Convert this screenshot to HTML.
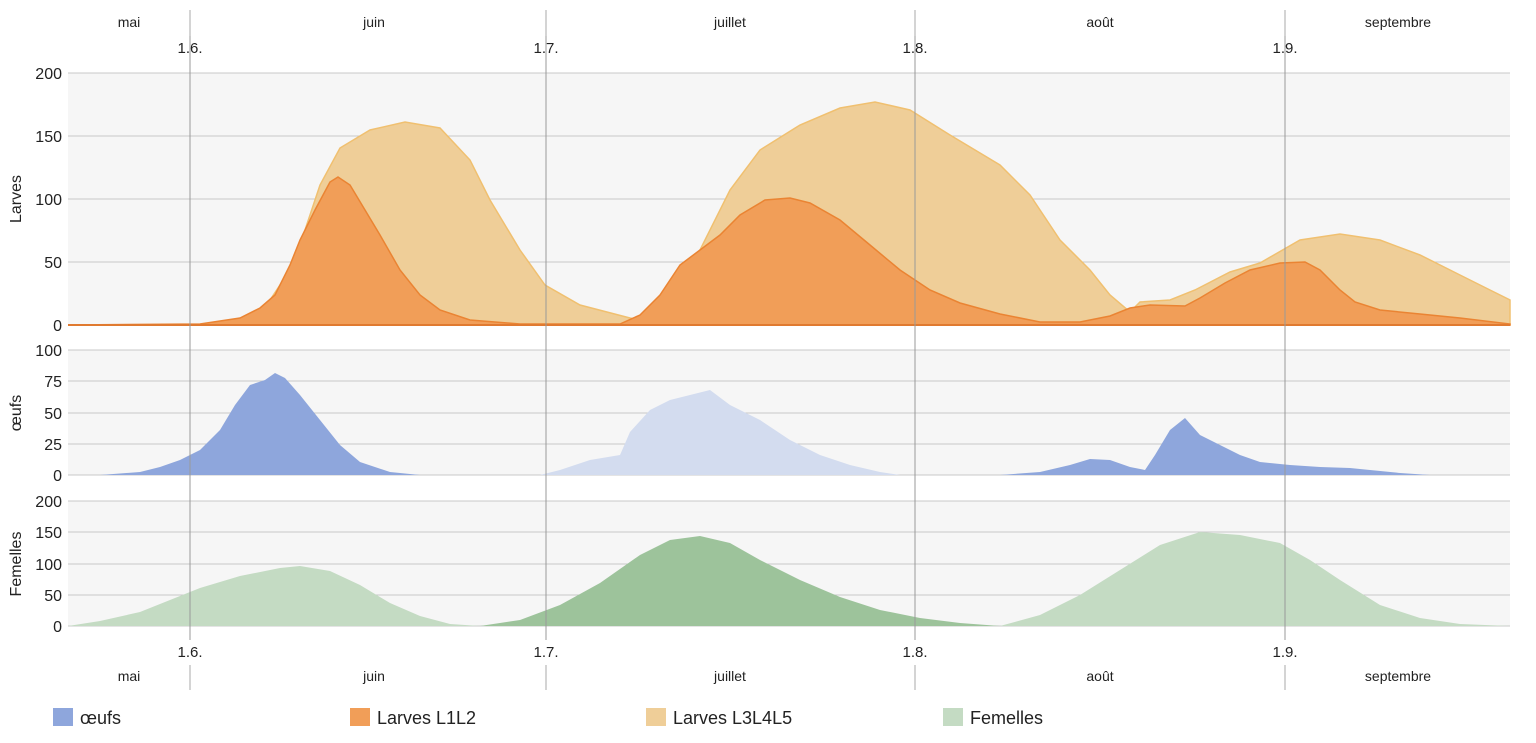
<!DOCTYPE html>
<html><head><meta charset="utf-8"><style>
body{margin:0;background:#fff;}
svg{display:block;font-family:"Liberation Sans",Arial,sans-serif;}
</style></head><body>
<svg width="1536" height="743" viewBox="0 0 1536 743">
<g fill="#f6f6f6"><rect x="68" y="73" width="1442" height="252"/><rect x="68" y="350" width="1442" height="125"/><rect x="68" y="501" width="1442" height="125"/></g>
<g stroke="#c8c8c8" stroke-width="1">
<line x1="68" y1="73" x2="1510" y2="73"/><line x1="68" y1="136" x2="1510" y2="136"/><line x1="68" y1="199" x2="1510" y2="199"/><line x1="68" y1="262" x2="1510" y2="262"/>
<line x1="68" y1="350" x2="1510" y2="350"/><line x1="68" y1="381" x2="1510" y2="381"/><line x1="68" y1="413" x2="1510" y2="413"/><line x1="68" y1="444" x2="1510" y2="444"/><line x1="68" y1="475" x2="1510" y2="475"/>
<line x1="68" y1="501" x2="1510" y2="501"/><line x1="68" y1="532" x2="1510" y2="532"/><line x1="68" y1="564" x2="1510" y2="564"/><line x1="68" y1="595" x2="1510" y2="595"/><line x1="68" y1="626" x2="1510" y2="626"/>
</g>
<g stroke="#aaa" stroke-width="1">
<line x1="190" y1="10" x2="190" y2="36"/><line x1="546" y1="10" x2="546" y2="36"/><line x1="915" y1="10" x2="915" y2="36"/><line x1="1285" y1="10" x2="1285" y2="36"/>
<line x1="190" y1="665" x2="190" y2="690"/><line x1="546" y1="665" x2="546" y2="690"/><line x1="915" y1="665" x2="915" y2="690"/><line x1="1285" y1="665" x2="1285" y2="690"/>
</g>
<!-- Panel 1 -->
<polygon fill="#efce98" stroke="#f0c070" stroke-width="1.5" points="68,325 200,325 260,315 290,270 305,230 320,185 340,148 370,130 405,122 440,128 470,160 490,200 520,250 545,285 580,305 630,318 640,320 660,300 700,250 730,190 760,150 800,125 840,108 875,102 910,110 950,135 1000,165 1030,195 1060,240 1090,270 1110,295 1130,312 1140,302 1170,300 1195,290 1230,272 1260,263 1300,240 1340,234 1380,240 1420,255 1460,275 1490,290 1510,300 1510,325"/>
<polygon fill="#f19e58" stroke="#ea8433" stroke-width="1.5" points="68,325 200,324 240,318 260,308 275,295 290,265 300,240 315,210 330,182 338,177 350,185 365,210 380,235 400,270 420,295 440,310 470,320 520,324 620,324 640,315 660,295 680,265 700,250 720,235 740,215 765,200 790,198 810,203 840,220 870,245 900,270 930,290 960,303 1000,314 1040,322 1080,322 1110,316 1130,308 1150,305 1185,306 1200,298 1225,283 1250,270 1280,263 1305,262 1320,270 1340,290 1355,302 1380,310 1420,314 1460,318 1510,324 1510,325"/>
<line x1="68" y1="325" x2="1510" y2="325" stroke="#e07a30" stroke-width="2"/>
<!-- Panel 2 -->
<polygon fill="#d3dcef" points="540,475 560,470 590,460 620,455 630,432 650,410 670,400 690,395 710,390 730,405 760,420 790,440 820,455 850,465 880,472 900,475"/>
<polygon fill="#8ea6dc" points="68,475 100,475 140,472 160,467 180,460 200,450 220,430 235,405 250,385 265,380 275,373 285,378 300,395 320,420 340,445 360,462 390,472 420,475"/>
<polygon fill="#8ea6dc" points="1000,475 1040,472 1070,465 1090,459 1110,460 1130,467 1145,470 1155,455 1170,430 1185,418 1200,435 1220,445 1240,455 1260,462 1290,465 1320,467 1350,468 1370,470 1400,473 1430,475"/>
<!-- Panel 3 -->
<polygon fill="#c4dbc3" points="68,626 100,621 140,612 170,600 200,588 240,576 280,568 300,566 330,571 360,585 390,603 420,616 450,624 480,626"/>
<polygon fill="#9dc39b" points="480,626 520,620 560,605 600,583 640,555 670,540 700,536 730,543 760,560 800,580 840,597 880,610 920,618 960,623 1000,626"/>
<polygon fill="#c4dbc3" points="1000,626 1040,615 1080,595 1120,570 1160,545 1200,532 1240,535 1280,543 1310,560 1340,580 1380,605 1420,618 1460,624 1510,626"/>
<g stroke="#999" stroke-width="1">
<line x1="190" y1="36" x2="190" y2="640"/><line x1="546" y1="36" x2="546" y2="640"/><line x1="915" y1="36" x2="915" y2="640"/><line x1="1285" y1="36" x2="1285" y2="640"/>
</g>
<g font-size="16" fill="#222" text-anchor="end">
<text x="62" y="79">200</text><text x="62" y="142">150</text><text x="62" y="205">100</text><text x="62" y="268">50</text><text x="62" y="331">0</text>
<text x="62" y="356">100</text><text x="62" y="387">75</text><text x="62" y="419">50</text><text x="62" y="450">25</text><text x="62" y="481">0</text>
<text x="62" y="507">200</text><text x="62" y="538">150</text><text x="62" y="570">100</text><text x="62" y="601">50</text><text x="62" y="632">0</text>
</g>
<g font-size="16" fill="#222" text-anchor="middle">
<text transform="translate(21,199) rotate(-90)">Larves</text>
<text transform="translate(21,413) rotate(-90)">œufs</text>
<text transform="translate(21,564) rotate(-90)">Femelles</text>
</g>
<g font-size="14" fill="#222" text-anchor="middle">
<text x="129" y="27">mai</text><text x="374" y="27">juin</text><text x="730" y="27">juillet</text><text x="1100" y="27">août</text><text x="1398" y="27">septembre</text>
<text x="129" y="681">mai</text><text x="374" y="681">juin</text><text x="730" y="681">juillet</text><text x="1100" y="681">août</text><text x="1398" y="681">septembre</text>
</g>
<g font-size="15" fill="#222" text-anchor="middle">
<text x="190" y="53">1.6.</text><text x="546" y="53">1.7.</text><text x="915" y="53">1.8.</text><text x="1285" y="53">1.9.</text>
<text x="190" y="657">1.6.</text><text x="546" y="657">1.7.</text><text x="915" y="657">1.8.</text><text x="1285" y="657">1.9.</text>
</g>
<rect x="53" y="708" width="20" height="18" fill="#8ea6dc"/><text x="80" y="724" font-size="18" fill="#222">œufs</text>
<rect x="350" y="708" width="20" height="18" fill="#f19e58"/><text x="377" y="724" font-size="18" fill="#222">Larves L1L2</text>
<rect x="646" y="708" width="20" height="18" fill="#efce98"/><text x="673" y="724" font-size="18" fill="#222">Larves L3L4L5</text>
<rect x="943" y="708" width="20" height="18" fill="#c4dbc3"/><text x="970" y="724" font-size="18" fill="#222">Femelles</text>
</svg>
</body></html>
